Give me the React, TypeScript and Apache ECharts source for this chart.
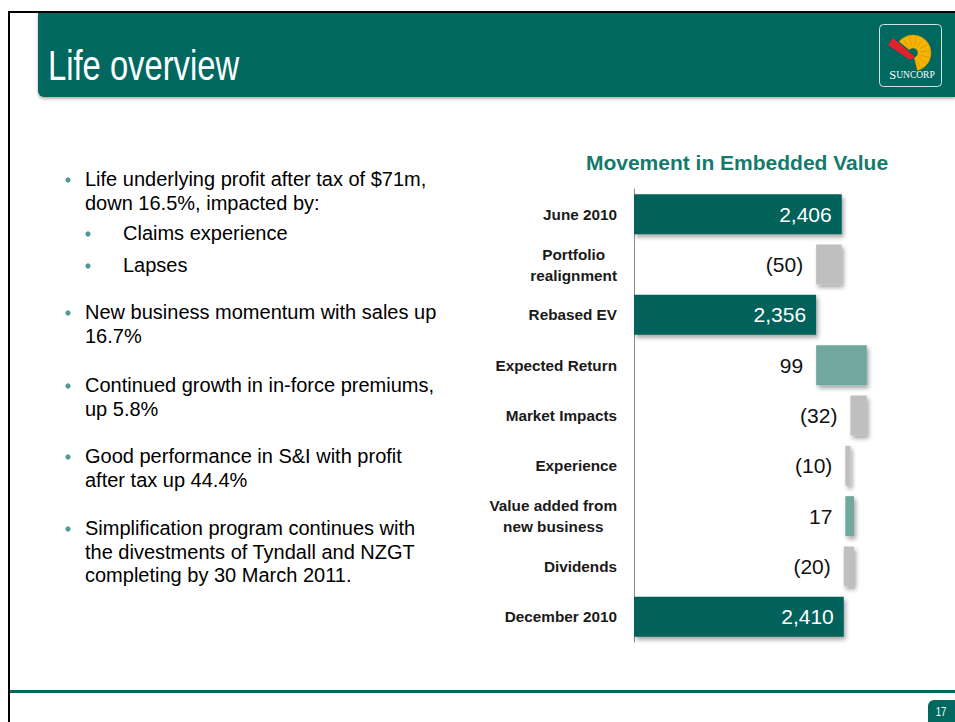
import React, { useEffect, useRef } from "react";
import * as echarts from "echarts";

const categories = [
  "June 2010",
  "Portfolio\nrealignment",
  "Rebased EV",
  "Expected Return",
  "Market Impacts",
  "Experience",
  "Value added from\nnew business",
  "Dividends",
  "December 2010",
];
const movements = [2406, -50, 2356, 99, -32, -10, 17, -20, 2410];
const isTotal = [true, false, true, false, false, false, false, false, true];

const chartTitle = "Movement in Embedded Value";
const slideTitle = "Life overview";
const pageNumber = "17";

const bulletLines: { level: number; lines: string[] }[] = [
  { level: 0, lines: ["Life underlying profit after tax of $71m,", "down 16.5%, impacted by:"] },
  { level: 1, lines: ["Claims experience"] },
  { level: 1, lines: ["Lapses"] },
  { level: 0, lines: ["New business momentum with sales up", "16.7%"] },
  { level: 0, lines: ["Continued growth in in-force premiums,", "up 5.8%"] },
  { level: 0, lines: ["Good performance in S&I with profit", "after tax up 44.4%"] },
  { level: 0, lines: ["Simplification program continues with", "the divestments of Tyndall and NZGT", "completing by 30 March 2011."] },
];
// baseline of the first line of each bullet (layout)
const bulletBaselines = [186, 240, 272, 319, 392, 463, 535];

const TEAL = "#00685e";
const BAR_TOTAL = "#02625a";
const BAR_UP = "#70a79f";
const BAR_DOWN = "#bfbfbf";
const SANS = '"Liberation Sans", Arial, sans-serif';

function fmt(v: number, total: boolean) {
  if (total) return v.toLocaleString("en-US");
  return v < 0 ? `(${Math.abs(v)})` : `${v}`;
}

export default function App() {
  const ref = useRef<HTMLDivElement>(null);

  useEffect(() => {
    if (!ref.current) return;
    const chart = echarts.init(ref.current, undefined, { renderer: "svg" });

    const base: number[] = [];
    const len: any[] = [];
    let running = 0;
    movements.forEach((v, i) => {
      if (isTotal[i]) {
        base.push(0);
        running = v;
        len.push({
          value: v,
          itemStyle: { color: BAR_TOTAL },
          label: {
            show: true,
            position: "insideRight",
            distance: 10,
            color: "#ffffff",
            fontSize: 21,
            fontFamily: SANS,
            formatter: () => fmt(v, true),
          },
        });
      } else {
        base.push(v < 0 ? running + v : running);
        running += v;
        len.push({
          value: Math.abs(v),
          itemStyle: { color: v < 0 ? BAR_DOWN : BAR_UP },
          label: {
            show: true,
            position: "left",
            distance: 13,
            color: "#111111",
            fontSize: 21,
            fontFamily: SANS,
            formatter: () => fmt(v, false),
          },
        });
      }
    });

    const graphics: any[] = [];
    // frame
    graphics.push({ type: "rect", shape: { x: 8, y: 11, width: 947, height: 2 }, style: { fill: "#000" }, silent: true });
    graphics.push({ type: "rect", shape: { x: 8, y: 11, width: 2, height: 711 }, style: { fill: "#000" }, silent: true });
    // header
    graphics.push({
      type: "rect",
      shape: { x: 38, y: 13, width: 917, height: 84, r: [0, 0, 0, 6] },
      style: { fill: TEAL, shadowBlur: 3, shadowOffsetY: 2, shadowColor: "rgba(0,0,0,0.3)" },
      silent: true,
    });
    graphics.push({
      type: "text",
      x: 48,
      y: 66,
      scaleX: 0.78,
      style: { text: slideTitle, fill: "#ffffff", font: `normal 42px ${SANS}`, verticalAlign: "middle" },
      silent: true,
    });
    // logo
    graphics.push({
      type: "rect",
      shape: { x: 879.5, y: 24.5, width: 62, height: 62, r: 4 },
      style: { fill: "none", stroke: "#cfe3de", lineWidth: 1 },
      silent: true,
    });
    graphics.push({
      type: "sector",
      shape: { cx: 913, cy: 53, r: 18, r0: 5, startAngle: -Math.PI * 0.78, endAngle: Math.PI * 0.42, clockwise: true },
      style: { fill: "#f5b400", stroke: "#d99000", lineWidth: 0.5 },
      silent: true,
    });
    for (let k = 0; k < 9; k++) {
      const a = -Math.PI * 0.7 + (k * Math.PI * 1.05) / 8;
      graphics.push({
        type: "line",
        shape: { x1: 913 + Math.cos(a) * 8, y1: 53 + Math.sin(a) * 8, x2: 913 + Math.cos(a) * 17, y2: 53 + Math.sin(a) * 17 },
        style: { stroke: "#d98e00", lineWidth: 0.7 },
        silent: true,
      });
    }
    graphics.push({
      type: "polygon",
      shape: { points: [[888, 45], [893, 38], [915, 57], [910, 60]] },
      style: { fill: "#e4202a" },
      silent: true,
    });
    graphics.push({
      type: "text",
      x: 912,
      y: 75,
      style: {
        text: "{a|S}{b|UNCORP}",
        align: "center",
        verticalAlign: "middle",
        rich: {
          a: { fill: "#ffffff", fontSize: 12.5, fontFamily: '"Liberation Serif", serif' },
          b: { fill: "#ffffff", fontSize: 9.5, fontFamily: '"Liberation Serif", serif' },
        },
      },
      silent: true,
    });
    // bottom line and page number
    graphics.push({ type: "rect", shape: { x: 10, y: 690, width: 945, height: 3 }, style: { fill: TEAL }, silent: true });
    graphics.push({ type: "rect", shape: { x: 928, y: 700, width: 27, height: 22, r: [6, 0, 0, 0] }, style: { fill: TEAL }, silent: true });
    graphics.push({
      type: "text",
      x: 941,
      y: 712,
      scaleX: 0.8,
      style: { text: pageNumber, fill: "#ffffff", font: `normal 12px ${SANS}`, align: "center", verticalAlign: "middle" },
      silent: true,
    });
    // bullets
    bulletLines.forEach((b, i) => {
      const bl = bulletBaselines[i];
      const dotX = b.level === 0 ? 68 : 88;
      const textX = b.level === 0 ? 85 : 123;
      graphics.push({ type: "circle", shape: { cx: dotX, cy: bl - 6, r: 2.6 }, style: { fill: "#4e9a90" }, silent: true });
      b.lines.forEach((line, j) => {
        graphics.push({
          type: "text",
          x: textX,
          y: bl + j * 23.5 - 7,
          style: { text: line, fill: "#000000", font: `normal 20px ${SANS}`, verticalAlign: "middle" },
          silent: true,
        });
      });
    });
    // chart title
    graphics.push({
      type: "text",
      x: 737,
      y: 162,
      style: { text: chartTitle, fill: "#16796b", font: `bold 21px ${SANS}`, align: "center", verticalAlign: "middle" },
      silent: true,
    });

    chart.setOption({
      animation: false,
      backgroundColor: "#ffffff",
      grid: { left: 634, top: 189, width: 307, height: 453, containLabel: false },
      xAxis: { type: "value", min: 2000, max: 2600, show: false },
      yAxis: {
        type: "category",
        inverse: true,
        data: categories,
        axisLine: { show: true, lineStyle: { color: "#8a8a8a", width: 1 } },
        axisTick: { show: false },
        axisLabel: {
          margin: 17,
          formatter: (val: string) => val.split("\n").map((l) => `{c|${l}}`).join("\n"),
          rich: {
            c: { align: "center", fontFamily: SANS, fontWeight: "bold", fontSize: 15.3, lineHeight: 21, color: "#1a1a1a" },
          },
        },
      },
      series: [
        {
          type: "bar",
          stack: "wf",
          barWidth: 40,
          silent: true,
          itemStyle: { color: "rgba(0,0,0,0)" },
          data: base,
          z: 1,
        },
        {
          type: "bar",
          stack: "wf",
          barWidth: 40,
          silent: true,
          itemStyle: { shadowBlur: 4, shadowColor: "rgba(0,0,0,0.35)", shadowOffsetX: 2, shadowOffsetY: 3 },
          data: len,
          z: 2,
        },
      ],
      graphic: graphics,
    });

    return () => chart.dispose();
  }, []);

  return (
    <div
      ref={ref}
      style={{ position: "fixed", left: 0, top: 0, width: 955, height: 722 }}
    />
  );
}
